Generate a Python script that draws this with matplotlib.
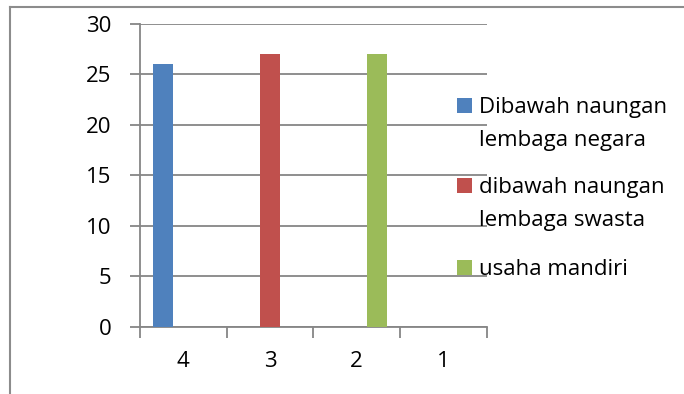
import matplotlib
matplotlib.use("Agg")
import matplotlib.pyplot as plt
from matplotlib.patches import Rectangle
from matplotlib.lines import Line2D
import numpy as np

categories = ["4", "3", "2", "1"]
series_names = ["Dibawah naungan\nlembaga negara",
                "dibawah naungan\nlembaga swasta",
                "usaha mandiri"]
negara = [26, 0, 0, 0]
swasta = [0, 27, 0, 0]
mandiri = [0, 0, 27, 0]
colors = ["#4F81BD", "#C0504D", "#9BBB59"]

plt.rcParams["font.family"] = ["Open Sans", "DejaVu Sans"]
FS = 16
GRID = "#868686"

W, H = 684, 394
fig = plt.figure(figsize=(W / 100, H / 100), dpi=100)

# plot area in pixel terms: x 140..486.7, y 24..326.7 (from top)
ax = fig.add_axes([140 / W, 1 - 326.7 / H, (486.7 - 140) / W, (326.7 - 24) / H])

x = np.arange(len(categories))
bw = 0.23
for i, (vals, c) in enumerate(zip([negara, swasta, mandiri], colors)):
    ax.bar(x + (i - 1) * bw, vals, width=bw, color=c, zorder=3)

ax.set_xlim(-0.5, len(categories) - 0.5)
ax.set_ylim(0, 30)
ax.set_yticks(range(0, 31, 5))
ax.yaxis.grid(True, color=GRID, linewidth=1.3, zorder=0)
ax.tick_params(axis="y", length=7, width=1.3, color=GRID, labelsize=FS, pad=13.5)

# category boundaries get the tick marks, labels sit in the middle
ax.set_xticks(np.arange(-0.5, len(categories), 1.0))
ax.set_xticklabels([])
ax.set_xticks(x, minor=True)
ax.set_xticklabels(categories, minor=True)
ax.tick_params(axis="x", which="major", length=8, width=1.3, color=GRID)
ax.tick_params(axis="x", which="minor", length=0, labelsize=FS, pad=17.5)

for s in ["top", "right"]:
    ax.spines[s].set_visible(False)
for s in ["left", "bottom"]:
    ax.spines[s].set_color(GRID)
    ax.spines[s].set_linewidth(1.3)
ax.set_axisbelow(True)

# chart area border (top and left edges)
fig.add_artist(Line2D([9.5 / W, 1.0], [1 - 7 / H] * 2, transform=fig.transFigure,
                      color="#8c8c8c", linewidth=1.5))
fig.add_artist(Line2D([9.5 / W] * 2, [0, 1 - 7 / H], transform=fig.transFigure,
                      color="#8c8c8c", linewidth=1.5))

# legend: square key next to the first line of each entry
baselines = [113.3, 192.7, 275.0]
line_gap = 33.0
for name, c, yb in zip(series_names, colors, baselines):
    fig.add_artist(Rectangle((456.7 / W, 1 - yb / H), 15 / W, 15 / H,
                             transform=fig.transFigure, facecolor=c, edgecolor="none"))
    for k, part in enumerate(name.split("\n")):
        fig.text(479 / W, 1 - (yb + k * line_gap) / H, part, fontsize=FS,
                 va="baseline", ha="left")

fig.savefig("out.png", dpi=100)
